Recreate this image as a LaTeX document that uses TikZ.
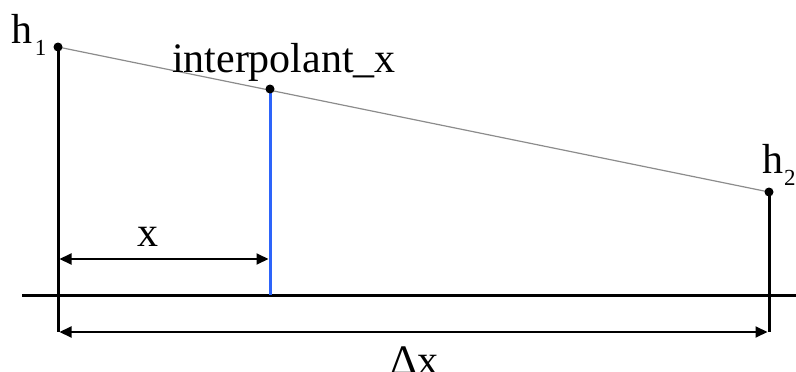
\documentclass[tikz,border=0pt]{standalone}
\usepackage{fontspec}
\setmainfont{Liberation Serif}
\usetikzlibrary{arrows.meta}
\definecolor{blueline}{RGB}{45,100,250}
\definecolor{slope}{RGB}{140,140,140}
\begin{document}
\begin{tikzpicture}[x=1pt,y=-1pt,
  dot/.style={circle,fill=black,inner sep=0pt,minimum size=9pt},
  heavy/.style={line width=3pt,black},
  dimline/.style={line width=2pt,black,{Triangle[length=12pt,width=11pt]}-{Triangle[length=12pt,width=11pt]}},
  lbl/.style={inner sep=0pt,outer sep=0pt,anchor=base west,font=\fontsize{42}{50}\selectfont},
  subs/.style={font=\fontsize{23}{23}\selectfont}]
\useasboundingbox (0,0) rectangle (796,372);
% points
\coordinate (h1p) at (58,47);
\coordinate (h2p) at (769,192);
\coordinate (ip) at (270,89);
\coordinate (b1) at (58,332);
\coordinate (b2) at (769,332);
\coordinate (bi) at (270,295);
\coordinate (gl) at (22,295);
\coordinate (gr) at (796,295);
\coordinate (xa) at (59.5,259);
\coordinate (xb) at (268.5,259);
\coordinate (da) at (59.5,332);
\coordinate (db) at (767.5,332);
% slope line
\draw[slope,line width=1.2pt] (h1p) -- (h2p);
% ground
\draw[heavy] (gl) -- (gr);
% verticals
\draw[heavy] (h1p) -- (b1);
\draw[heavy] (h2p) -- (b2);
\draw[blueline,line width=3pt] (ip) -- (bi);
% dimension arrows
\draw[dimline] (xa) -- (xb);
\draw[dimline] (da) -- (db);
% dots
\node[dot] (h1) at (h1p) {};
\node[dot] (h2) at (h2p) {};
\node[dot] (ix) at (ip) {};
% labels
\node[lbl] (lh1) at (12,43) {h\kern2pt\raisebox{-12pt}{\fontsize{23}{23}\selectfont 1}};
\node[lbl] (lh2) at (762,173) {h\kern1pt\raisebox{-12pt}{\fontsize{23}{23}\selectfont 2}};
\node[lbl] (lix) at (172,72) {interpolant\_x};
\node[lbl] (lx) at (137,246) {x};
\node[lbl] (ldx) at (390,374) {Δx};
\end{tikzpicture}
\end{document}
